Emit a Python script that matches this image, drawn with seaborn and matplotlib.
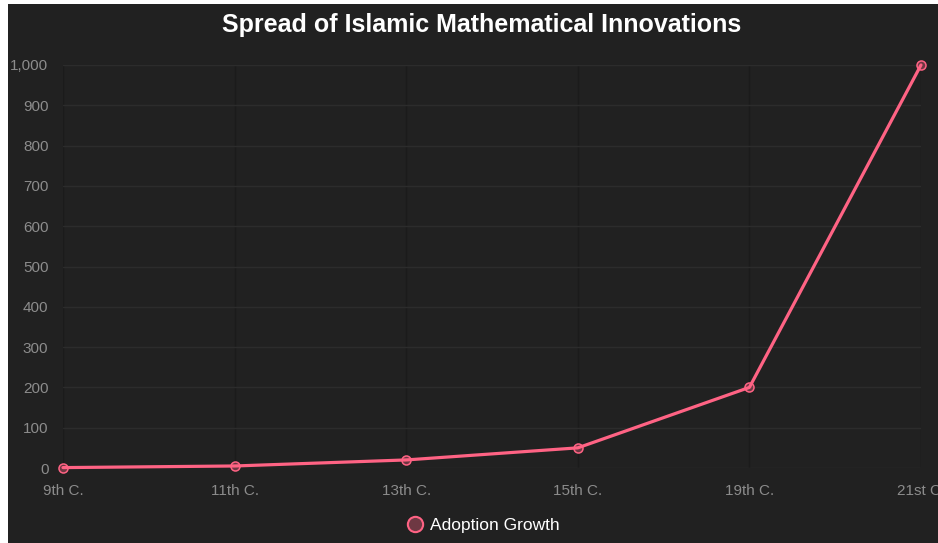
import pandas as pd
import seaborn as sns
import matplotlib.pyplot as plt
from matplotlib.lines import Line2D
from matplotlib.patches import Rectangle

centuries = ["9th C.", "11th C.", "13th C.", "15th C.", "19th C.", "21st C."]
adoption = [1, 5, 20, 50, 200, 1000]
y_ticks = [0, 100, 200, 300, 400, 500, 600, 700, 800, 900, 1000]

if __name__ == '__main__':
    sns.set_theme(style="dark")
    plt.rcParams['font.family'] = ['Liberation Sans', 'DejaVu Sans']

    pink = "#ff6384"
    pink_fill = (1.0, 0.388, 0.518, 0.35)
    bg = "#212121"
    grid_h = "#2c2c2c"
    grid_v = "#1b1b1b"
    tick_col = "#8c8c8c"

    data = pd.DataFrame({"century": centuries, "growth": adoption})

    figure = plt.figure(figsize=(9.38, 5.43), dpi=100, facecolor="white")
    figure.patches.append(Rectangle((8 / 938, 0), 930 / 938, 539 / 543,
                                    transform=figure.transFigure,
                                    facecolor=bg, edgecolor="none", zorder=-5))
    axis = figure.add_axes([63 / 938, 75 / 543, 858 / 938, 403 / 543])
    axis.set_facecolor(bg)
    axis.set_zorder(2)

    sns.lineplot(x="century", y="growth", data=data, ax=axis, color=pink,
                 linewidth=2.3, marker="o", markersize=6.5,
                 markerfacecolor=pink_fill, markeredgecolor=pink,
                 markeredgewidth=1.1, clip_on=False, zorder=5)

    axis.set_xlim(0, len(centuries) - 1)
    axis.set_ylim(0, 1000)
    axis.set_yticks(y_ticks)
    axis.set_yticklabels([f"{v:,}" for v in y_ticks])
    axis.set_xlabel("")
    axis.set_ylabel("")
    for side in axis.spines.values():
        side.set_visible(False)
    axis.grid(True, axis="y", color=grid_h, linewidth=1)
    axis.grid(True, axis="x", color=grid_v, linewidth=1)
    axis.tick_params(axis="y", colors=grid_h, labelcolor=tick_col,
                     labelsize=11, length=7.5, width=1, pad=3)
    axis.tick_params(axis="x", colors=grid_v, labelcolor=tick_col,
                     labelsize=11, length=7.5, width=1, pad=4)

    figure.text(482 / 938, 1 - 25 / 543, "Spread of Islamic Mathematical Innovations",
                ha="center", va="center", color="white", fontsize=18,
                fontweight="bold")

    handle = Line2D([], [], linestyle="none", marker="o", markersize=11,
                    markerfacecolor=pink_fill, markeredgecolor=pink,
                    markeredgewidth=1.5)
    figure.legend([handle], ["Adoption Growth"], loc="center",
                  bbox_to_anchor=(482 / 938, 1 - 525 / 543), frameon=False,
                  labelcolor="white", fontsize=12.5, handletextpad=0.3,
                  handlelength=1.2)

    figure.savefig("out.png", dpi=100, facecolor="white")
